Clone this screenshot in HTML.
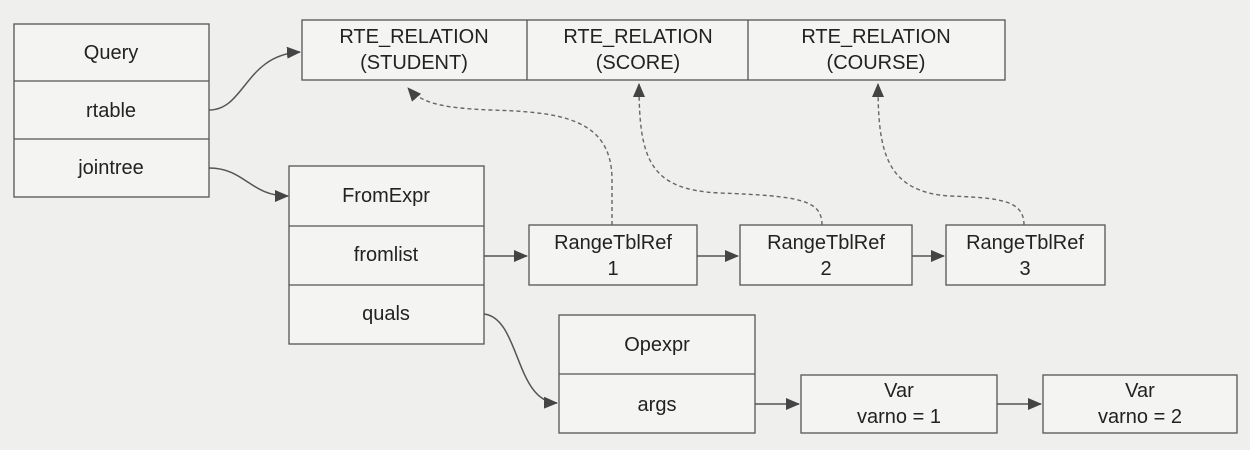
<!DOCTYPE html>
<html><head><meta charset="utf-8"><style>
html,body{margin:0;padding:0;background:#efefed;}
svg{display:block}
text{font-family:"Liberation Sans","DejaVu Sans",sans-serif;font-size:20px;fill:#222;text-anchor:middle}
.b{fill:#f4f4f2;stroke:#555;stroke-width:1.3}
.l{stroke:#555;stroke-width:1.3;fill:none}
.c{stroke:#555;stroke-width:1.5;fill:none}
.d{stroke:#666;stroke-width:1.4;fill:none;stroke-dasharray:4,3}
</style></head><body>
<svg width="1250" height="450" viewBox="0 0 1250 450">
<defs><marker id="a" markerWidth="14" markerHeight="12" refX="13" refY="6" orient="auto" markerUnits="userSpaceOnUse"><path d="M0,0 L14,6 L0,12 z" fill="#444"/></marker></defs>
<rect class="b" x="14" y="24" width="195" height="173"/>
<line class="l" x1="14" y1="81" x2="209" y2="81"/><line class="l" x1="14" y1="139" x2="209" y2="139"/>
<text x="111" y="59">Query</text><text x="111" y="117">rtable</text><text x="111" y="174">jointree</text>
<rect class="b" x="302" y="20" width="703" height="60"/>
<line class="l" x1="527" y1="20" x2="527" y2="80"/><line class="l" x1="748" y1="20" x2="748" y2="80"/>
<text x="414" y="43">RTE_RELATION</text><text x="414" y="69">(STUDENT)</text>
<text x="638" y="43">RTE_RELATION</text><text x="638" y="69">(SCORE)</text>
<text x="876" y="43">RTE_RELATION</text><text x="876" y="69">(COURSE)</text>
<rect class="b" x="289" y="166" width="195" height="178"/>
<line class="l" x1="289" y1="226" x2="484" y2="226"/><line class="l" x1="289" y1="285" x2="484" y2="285"/>
<text x="386" y="202">FromExpr</text><text x="386" y="261">fromlist</text><text x="386" y="320">quals</text>
<rect class="b" x="529" y="225" width="168" height="60"/>
<text x="613" y="249">RangeTblRef</text><text x="613" y="275">1</text>
<rect class="b" x="740" y="225" width="172" height="60"/>
<text x="826" y="249">RangeTblRef</text><text x="826" y="275">2</text>
<rect class="b" x="946" y="225" width="159" height="60"/>
<text x="1025" y="249">RangeTblRef</text><text x="1025" y="275">3</text>
<rect class="b" x="559" y="315" width="196" height="118"/>
<line class="l" x1="559" y1="374" x2="755" y2="374"/>
<text x="657" y="351">Opexpr</text><text x="657" y="411">args</text>
<rect class="b" x="801" y="375" width="196" height="58"/>
<text x="899" y="397">Var</text><text x="899" y="423">varno = 1</text>
<rect class="b" x="1043" y="375" width="194" height="58"/>
<text x="1140" y="397">Var</text><text x="1140" y="423">varno = 2</text>
<path class="c" d="M209,110 C245,110 245,55 300,52" marker-end="url(#a)"/>
<path class="c" d="M209,168 C245,168 250,196 288,196" marker-end="url(#a)"/>
<path class="c" d="M484,256 L527,256" marker-end="url(#a)"/>
<path class="c" d="M697,256 L738,256" marker-end="url(#a)"/>
<path class="c" d="M912,256 L944,256" marker-end="url(#a)"/>
<path class="c" d="M484,314 C520,318 515,402 557,403" marker-end="url(#a)"/>
<path class="c" d="M755,404 L799,404" marker-end="url(#a)"/>
<path class="c" d="M997,404 L1041,404" marker-end="url(#a)"/>
<path class="d" d="M612,225 L612,180 C612,118 560,112 490,110 C445,108 422,104 408,88" marker-end="url(#a)"/>
<path class="d" d="M822,225 C822,200 800,196 720,193 C650,190 639,160 639,84" marker-end="url(#a)"/>
<path class="d" d="M1024,225 C1024,200 1000,198 950,196 C885,192 878,150 878,84" marker-end="url(#a)"/>
</svg>
</body></html>
